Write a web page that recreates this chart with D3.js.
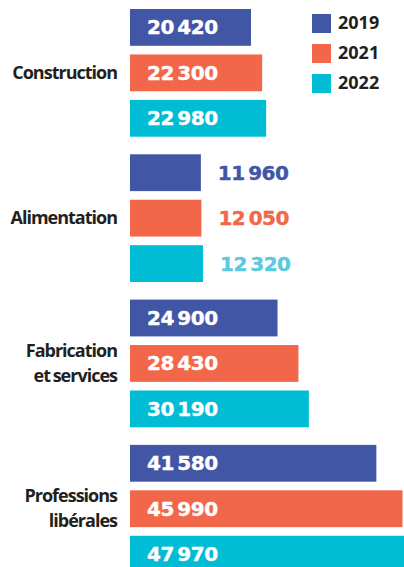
<!DOCTYPE html>
<html lang="fr">
<head>
<meta charset="utf-8">
<title>Secteurs 2019-2022</title>
<script src="https://d3js.org/d3.v7.min.js"></script>
<style>
  html, body { margin: 0; padding: 0; background: #fff; }
  svg { display: block; }
  .cat { font-family: "Open Sans", sans-serif; font-weight: 700; font-size: 18px; fill: #231f20; letter-spacing: -1px; word-spacing: -1px; }
  .val { font-family: "DejaVu Sans", sans-serif; font-weight: bold; font-size: 20px; letter-spacing: -0.5px; word-spacing: -3px; stroke-width: 0.4px; }
  .leg { font-family: "Open Sans", sans-serif; font-weight: 700; font-size: 18px; fill: #231f20; }
</style>
</head>
<body>
<div id="chart"></div>
<script>
// categories (label lines) and years
var categories = ["Construction", "Alimentation", "Fabrication et services", "Professions libérales"];
var categoryLines = [["Construction"], ["Alimentation"], ["Fabrication", "et services"], ["Professions", "libérales"]];
var years = ["2019", "2021", "2022"];

// values per year, same order as categories
var values2019 = [20420, 11960, 24900, 41580];
var values2021 = [22300, 12050, 28430, 45990];
var values2022 = [22980, 12320, 30190, 47970];

var barColors = ["#4256a6", "#f26649", "#00bcd5"];
var outsideColors = ["#4256a6", "#f26649", "#5bc9e1"];

var width = 404, height = 567;

var series = [values2019, values2021, values2022];
var data = [];
categories.forEach(function (c, ci) {
  years.forEach(function (y, yi) {
    data.push({ cat: c, year: y, yi: yi, value: series[yi][ci], inside: series[yi][ci] > 15000 });
  });
});

var svg = d3.select("#chart").append("svg")
  .attr("width", width)
  .attr("height", height);

var x = d3.scaleLinear()
  .domain([0, 50000])
  .range([130, 426.25]);

var y0 = d3.scaleBand()
  .domain(categories)
  .range([9, 572.6])
  .paddingInner(0.121);

var y1 = d3.scaleBand()
  .domain(years)
  .range([0, y0.bandwidth()])
  .paddingInner(0.19);

var fmt = function (v) { return d3.format(",")(v).replace(",", " "); };

// bars
svg.append("g").selectAll("rect")
  .data(data)
  .enter().append("rect")
  .attr("x", x(0))
  .attr("y", d => y0(d.cat) + y1(d.year))
  .attr("width", d => x(d.value) - x(0))
  .attr("height", y1.bandwidth())
  .attr("fill", d => barColors[d.yi]);

// value labels (white inside the bar, coloured after short bars)
svg.append("g").selectAll("text")
  .data(data)
  .enter().append("text")
  .attr("class", "val")
  .attr("x", d => d.inside ? x(0) + 17 : x(d.value) + 17)
  .attr("y", d => y0(d.cat) + y1(d.year) + y1.bandwidth() / 2 + 7)
  .attr("fill", d => d.inside ? "#fff" : outsideColors[d.yi])
  .attr("stroke", d => d.inside ? "#fff" : outsideColors[d.yi])
  .text(d => fmt(d.value));

// category labels
var cats = svg.append("g").selectAll("text")
  .data(categories)
  .enter().append("text")
  .attr("class", "cat")
  .attr("text-anchor", "end");

cats.each(function (c, i) {
  var lines = categoryLines[i];
  var mid = y0(c) + y0.bandwidth() / 2;
  var first = mid + 6 - (lines.length - 1) * 12.5;
  d3.select(this).selectAll("tspan")
    .data(lines)
    .enter().append("tspan")
    .attr("x", 117)
    .attr("y", (d, j) => first + j * 25)
    .text(d => d);
});

// legend
var legend = svg.append("g").attr("transform", "translate(312, 14)");
var items = legend.selectAll("g")
  .data(years)
  .enter().append("g")
  .attr("transform", (d, i) => "translate(0," + i * 30 + ")");
items.append("rect")
  .attr("width", 19)
  .attr("height", 19)
  .attr("fill", (d, i) => barColors[i]);
items.append("text")
  .attr("class", "leg")
  .attr("x", 26)
  .attr("y", 14.5)
  .text(d => d);
</script>
</body>
</html>
